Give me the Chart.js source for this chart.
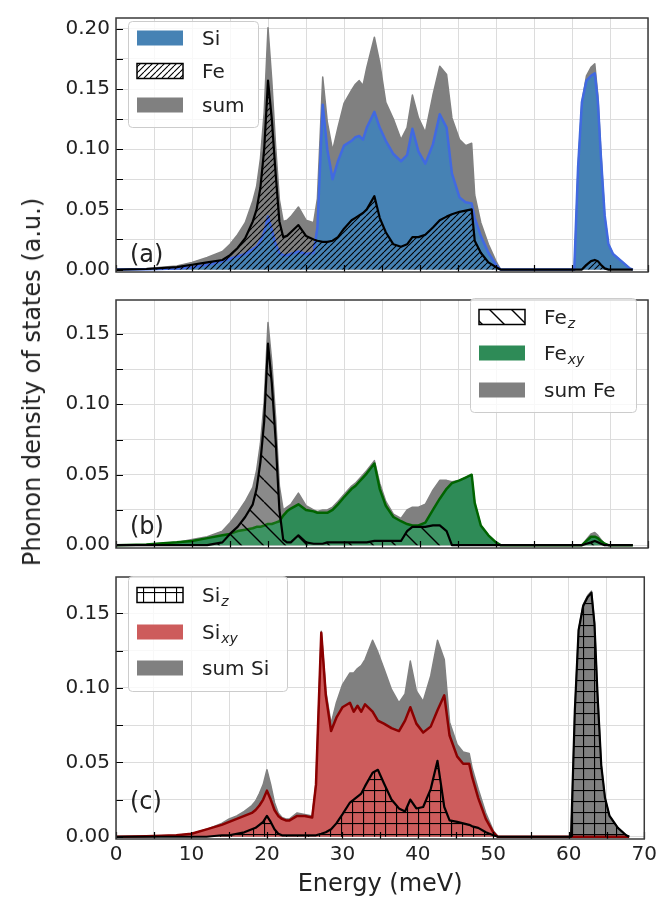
<!DOCTYPE html>
<html>
<head>
<meta charset="utf-8">
<script src="https://cdn.jsdelivr.net/npm/chart.js@4.4.1/dist/chart.umd.min.js"></script>
<style>
    html, body { margin: 0; padding: 0; background: #fff; }
    #fig { position: relative; width: 661px; height: 904px; overflow: hidden; }
    #fig canvas { position: absolute; left: 0; }
    #ylabel {
        position: absolute; left: 32px; top: 382px;
        transform: translate(-50%, -50%) rotate(-90deg);
        font: 24px "DejaVu Sans", sans-serif; color: #222; white-space: nowrap;
    }
</style>
</head>
<body>
<div id="fig">
    <canvas id="panelA" width="661" height="290" style="top:0px"></canvas>
    <canvas id="panelB" width="661" height="284" style="top:282px"></canvas>
    <canvas id="panelC" width="661" height="345" style="top:559px"></canvas>
    <div id="ylabel">Phonon density of states (a.u.)</div>
</div>
<script>
// energy grid (meV), shared by all series
const energy = [
    0, 4, 8, 10, 12, 14, 15, 16, 17, 18,
    18.5, 19, 19.5, 20, 20.5, 21, 21.5, 22, 22.5, 23,
    24, 25, 26, 26.5, 27.2, 27.8, 28.5, 29.2, 30, 31,
    31.5, 32, 32.5, 33, 34, 34.7, 35.5, 36.5, 37.5, 38.3,
    39, 39.8, 40.7, 41.7, 42.6, 43.5, 44.2, 45.2, 46, 46.8,
    47.2, 48, 49, 50, 50.6, 55, 60, 60.3, 60.8, 61.3,
    61.9, 62.5, 63, 63.4, 63.8, 64.3, 64.8, 65.4, 66.5, 67.6,
    68
];

// panel (a)
const siTotal = [
    0, 0.0003, 0.001, 0.002, 0.004, 0.007, 0.009, 0.011, 0.013, 0.017,
    0.019, 0.024, 0.031, 0.044, 0.033, 0.021, 0.014, 0.012, 0.012, 0.013,
    0.015, 0.013, 0.014, 0.035, 0.137, 0.100, 0.075, 0.090, 0.103, 0.107,
    0.110, 0.111, 0.108, 0.118, 0.131, 0.118, 0.107, 0.096, 0.090, 0.095,
    0.117, 0.098, 0.088, 0.104, 0.129, 0.118, 0.080, 0.060, 0.056, 0.055,
    0.043, 0.028, 0.014, 0.004, 0, 0, 0, 0, 0.085, 0.139,
    0.157, 0.161, 0.163, 0.140, 0.094, 0.045, 0.021, 0.013, 0.007, 0.001,
    0
];
const feTotal = [
    0, 0.0005, 0.002, 0.004, 0.006, 0.008, 0.012, 0.018, 0.026, 0.040,
    0.050, 0.068, 0.100, 0.157, 0.125, 0.080, 0.040, 0.027, 0.028, 0.031,
    0.037, 0.028, 0.025, 0.024, 0.023, 0.023, 0.024, 0.027, 0.034, 0.041,
    0.043, 0.045, 0.047, 0.050, 0.061, 0.043, 0.031, 0.021, 0.019, 0.021,
    0.027, 0.027, 0.029, 0.035, 0.041, 0.044, 0.046, 0.048, 0.049, 0.050,
    0.024, 0.014, 0.006, 0.002, 0, 0, 0, 0, 0, 0,
    0.004, 0.007, 0.008, 0.007, 0.004, 0.001, 0, 0, 0, 0,
    0
];
const sumTotal = [
    0, 0.001, 0.003, 0.006, 0.010, 0.015, 0.021, 0.029, 0.039, 0.057,
    0.069, 0.092, 0.131, 0.201, 0.157, 0.103, 0.058, 0.040, 0.041, 0.044,
    0.052, 0.041, 0.039, 0.059, 0.160, 0.123, 0.099, 0.118, 0.138, 0.149,
    0.154, 0.157, 0.153, 0.168, 0.193, 0.172, 0.139, 0.125, 0.108, 0.118,
    0.145, 0.126, 0.114, 0.145, 0.169, 0.162, 0.126, 0.108, 0.103, 0.105,
    0.062, 0.039, 0.021, 0.007, 0, 0, 0, 0, 0.085, 0.139,
    0.161, 0.168, 0.171, 0.145, 0.098, 0.045, 0.021, 0.013, 0.007, 0.001,
    0
];

// panel (b)
const feZ = [
    0, 0, 0, 0, 0, 0.002, 0.008, 0.013, 0.020, 0.029,
    0.040, 0.059, 0.088, 0.143, 0.115, 0.075, 0.025, 0.004, 0.002, 0.002,
    0.007, 0.002, 0.001, 0.001, 0.001, 0.002, 0.002, 0.002, 0.002, 0.002,
    0.002, 0.002, 0.002, 0.002, 0.003, 0.003, 0.003, 0.003, 0.003, 0.010,
    0.013, 0.013, 0.013, 0.014, 0.014, 0.010, 0, 0, 0, 0,
    0, 0, 0, 0, 0, 0, 0, 0, 0, 0,
    0.001, 0.002, 0.003, 0.002, 0.001, 0, 0, 0, 0, 0,
    0
];
const feXY = [
    0, 0.0005, 0.002, 0.003, 0.005, 0.007, 0.008, 0.010, 0.011, 0.012,
    0.013, 0.013, 0.014, 0.015, 0.015, 0.016, 0.017, 0.021, 0.024, 0.026,
    0.029, 0.025, 0.024, 0.023, 0.023, 0.023, 0.025, 0.029, 0.034, 0.040,
    0.042, 0.045, 0.048, 0.051, 0.058, 0.040, 0.028, 0.020, 0.017, 0.015,
    0.014, 0.014, 0.016, 0.025, 0.033, 0.040, 0.044, 0.046, 0.048, 0.050,
    0.030, 0.014, 0.007, 0.002, 0, 0, 0, 0, 0, 0,
    0.003, 0.006, 0.006, 0.005, 0.003, 0.001, 0, 0, 0, 0,
    0
];
const sumFe = [
    0, 0.0005, 0.002, 0.004, 0.006, 0.010, 0.016, 0.023, 0.031, 0.041,
    0.053, 0.072, 0.102, 0.158, 0.130, 0.091, 0.042, 0.025, 0.027, 0.029,
    0.037, 0.028, 0.025, 0.024, 0.025, 0.025, 0.027, 0.031, 0.036, 0.042,
    0.044, 0.047, 0.050, 0.053, 0.060, 0.044, 0.031, 0.022, 0.019, 0.025,
    0.027, 0.027, 0.029, 0.039, 0.046, 0.046, 0.045, 0.046, 0.048, 0.050,
    0.030, 0.014, 0.007, 0.002, 0, 0, 0, 0, 0, 0,
    0.004, 0.008, 0.009, 0.007, 0.004, 0.001, 0, 0, 0, 0,
    0
];

// panel (c)
const siZ = [
    0, 0, 0, 0, 0, 0.001, 0.001, 0.002, 0.003, 0.005,
    0.006, 0.008, 0.010, 0.014, 0.010, 0.005, 0.002, 0.001, 0.001, 0.001,
    0.001, 0.001, 0.001, 0.001, 0.002, 0.003, 0.005, 0.009, 0.015, 0.023,
    0.025, 0.027, 0.029, 0.034, 0.043, 0.045, 0.036, 0.025, 0.019, 0.017,
    0.025, 0.019, 0.020, 0.032, 0.051, 0.020, 0.011, 0.010, 0.009, 0.008,
    0.007, 0.006, 0.003, 0.001, 0, 0, 0, 0, 0.085, 0.139,
    0.155, 0.161, 0.164, 0.143, 0.096, 0.048, 0.026, 0.014, 0.006, 0.001,
    0
];
const siXY = [
    0, 0.0003, 0.001, 0.002, 0.005, 0.008, 0.010, 0.012, 0.014, 0.016,
    0.018, 0.021, 0.025, 0.031, 0.025, 0.018, 0.014, 0.012, 0.011, 0.011,
    0.014, 0.014, 0.013, 0.035, 0.137, 0.095, 0.071, 0.080, 0.087, 0.090,
    0.084, 0.088, 0.084, 0.089, 0.084, 0.078, 0.076, 0.073, 0.071, 0.078,
    0.087, 0.076, 0.070, 0.074, 0.085, 0.095, 0.068, 0.054, 0.049, 0.049,
    0.040, 0.026, 0.012, 0.003, 0, 0, 0, 0, 0, 0,
    0, 0, 0, 0, 0, 0, 0, 0, 0, 0,
    0
];
const sumSi = [
    0, 0.0003, 0.001, 0.002, 0.005, 0.009, 0.012, 0.014, 0.017, 0.021,
    0.024, 0.029, 0.035, 0.045, 0.035, 0.023, 0.016, 0.013, 0.012, 0.012,
    0.016, 0.015, 0.014, 0.036, 0.138, 0.098, 0.076, 0.090, 0.102, 0.110,
    0.110, 0.113, 0.115, 0.119, 0.132, 0.124, 0.113, 0.099, 0.090, 0.096,
    0.118, 0.098, 0.091, 0.108, 0.132, 0.119, 0.077, 0.062, 0.057, 0.056,
    0.046, 0.032, 0.016, 0.004, 0, 0, 0, 0, 0.085, 0.139,
    0.156, 0.162, 0.165, 0.144, 0.097, 0.048, 0.026, 0.014, 0.006, 0.001,
    0
];

// ticks
const xTicks = [0, 5, 10, 15, 20, 25, 30, 35, 40, 45, 50, 55, 60, 65, 70];
const xTickLabels = ['0', '', '10', '', '20', '', '30', '', '40', '', '50', '', '60', '', '70'];
const yTicksA = [0, 0.025, 0.05, 0.075, 0.1, 0.125, 0.15, 0.175, 0.2];
const yTicksBC = [0, 0.025, 0.05, 0.075, 0.1, 0.125, 0.15];

const FONT = '"DejaVu Sans", sans-serif';
const GRID = '#dcdcdc';
const GRAY = '#808080';

Chart.defaults.font.family = FONT;
Chart.defaults.color = '#222';

function xy(values) {
    return energy.map((e, i) => ({ x: e, y: values[i] }));
}

// matplotlib-like hatches: '/', '\\' or '+'
function hatchPattern(kind, size, lineWidth, bg) {
    const tile = document.createElement('canvas');
    tile.width = size;
    tile.height = size;
    const g = tile.getContext('2d');
    if (bg) {
        g.fillStyle = bg;
        g.fillRect(0, 0, size, size);
    }
    g.strokeStyle = '#000';
    g.fillStyle = '#000';
    g.lineWidth = lineWidth;
    if (kind === '+') {
        g.fillRect(0, 0, size, lineWidth);
        g.fillRect(0, 0, lineWidth, size);
    } else {
        g.beginPath();
        for (let k = -1; k <= 1; k++) {
            if (kind === '/') {
                g.moveTo(k * size, size);
                g.lineTo(k * size + size, 0);
            } else {
                g.moveTo(k * size, 0);
                g.lineTo(k * size + size, size);
            }
        }
        g.stroke();
    }
    return g.createPattern(tile, 'repeat');
}

const feHatch = hatchPattern('/', 6, 1.1, null);
const feZHatch = hatchPattern('\\', 22, 1.4, 'rgba(255,255,255,0.08)');
const siZHatch = hatchPattern('+', 11, 1.1, null);

function yLabel(v) {
    return Math.round(v * 1000) % 50 === 0 ? v.toFixed(2) : '';
}

function panelDecor(p) {
    return {
        id: 'panelDecor',
        afterDraw(chart) {
            const ctx = chart.ctx;
            const a = chart.chartArea;
            const xs = chart.scales.x;
            const ys = chart.scales.y;
            ctx.save();

            // ticks point inwards
            ctx.strokeStyle = '#000';
            ctx.lineWidth = 1.2;
            ctx.beginPath();
            xTicks.forEach(v => {
                const px = Math.round(xs.getPixelForValue(v)) + 0.5;
                ctx.moveTo(px, a.bottom);
                ctx.lineTo(px, a.bottom - 7);
            });
            p.yTicks.forEach(v => {
                const py = Math.round(ys.getPixelForValue(v)) + 0.5;
                ctx.moveTo(a.left, py);
                ctx.lineTo(a.left + 7, py);
            });
            ctx.stroke();

            // frame
            ctx.strokeStyle = '#3a3a3a';
            ctx.lineWidth = 1.5;
            ctx.strokeRect(a.left, a.top, a.right - a.left, a.bottom - a.top);

            // panel letter
            ctx.fillStyle = '#222';
            ctx.textAlign = 'left';
            ctx.textBaseline = 'alphabetic';
            ctx.font = '24px ' + FONT;
            ctx.fillText(p.letter, a.left + 14, p.letterY);

            // legend
            const L = p.legend;
            ctx.fillStyle = 'rgba(255,255,255,0.8)';
            ctx.strokeStyle = '#cccccc';
            ctx.lineWidth = 1;
            ctx.beginPath();
            if (ctx.roundRect) {
                ctx.roundRect(L.x + 0.5, L.y + 0.5, L.w, L.h, 4);
            } else {
                ctx.rect(L.x + 0.5, L.y + 0.5, L.w, L.h);
            }
            ctx.fill();
            ctx.stroke();

            L.items.forEach((it, i) => {
                const cy = L.rows[i];
                const sx = L.x + 9, sw = 46, sh = 15;
                if (it.hatch) {
                    ctx.fillStyle = '#fff';
                    ctx.fillRect(sx, cy - sh / 2, sw, sh);
                }
                ctx.fillStyle = it.fill;
                ctx.fillRect(sx, cy - sh / 2, sw, sh);
                if (it.edge) {
                    ctx.strokeStyle = it.edge;
                    ctx.lineWidth = 1.5;
                    ctx.strokeRect(sx, cy - sh / 2, sw, sh);
                }
                const tx = L.x + 74, base = cy + 7;
                ctx.fillStyle = '#222';
                ctx.font = '20px ' + FONT;
                ctx.fillText(it.text, tx, base);
                if (it.sub) {
                    const w = ctx.measureText(it.text).width;
                    ctx.font = 'italic 14px ' + FONT;
                    ctx.fillText(it.sub, tx + w + 1, base + 4);
                }
            });
            ctx.restore();
        }
    };
}

function makePanel(id, p) {
    return new Chart(document.getElementById(id), {
        type: 'line',
        data: { datasets: p.datasets },
        options: {
            responsive: false,
            animation: false,
            devicePixelRatio: 1,
            layout: { padding: { top: p.padTop, right: 13, bottom: p.padBottom, left: 0 } },
            elements: { point: { radius: 0 }, line: { tension: 0, borderJoinStyle: 'round' } },
            plugins: { legend: { display: false }, tooltip: { enabled: false } },
            scales: {
                x: {
                    type: 'linear',
                    min: 0,
                    max: 70,
                    border: { display: false },
                    grid: { color: GRID, lineWidth: 1, drawTicks: false },
                    afterBuildTicks: s => { s.ticks = xTicks.map(v => ({ value: v })); },
                    afterFit: s => { s.height = p.xHeight; },
                    ticks: {
                        display: p.showX,
                        padding: 4,
                        autoSkip: false,
                        maxRotation: 0,
                        font: { size: 20 },
                        callback: (v, i) => xTickLabels[i]
                    },
                    title: {
                        display: p.showX,
                        text: 'Energy (meV)',
                        font: { size: 24 },
                        padding: { top: 0, bottom: 5 }
                    }
                },
                y: {
                    min: p.yMin,
                    max: p.yMax,
                    border: { display: false },
                    grid: { color: GRID, lineWidth: 1, drawTicks: false },
                    afterBuildTicks: s => { s.ticks = p.yTicks.map(v => ({ value: v })); },
                    afterFit: s => { s.width = 116; },
                    ticks: {
                        padding: 6,
                        autoSkip: false,
                        font: { size: 20 },
                        callback: v => yLabel(v)
                    }
                }
            }
        },
        plugins: [panelDecor(p)]
    });
}

// (a) total Si / Fe
makePanel('panelA', {
    padTop: 8, padBottom: 5, xHeight: 0, showX: false,
    yMin: -0.002, yMax: 0.209, yTicks: yTicksA,
    letter: '(a)', letterY: 262,
    legend: {
        x: 128, y: 21, w: 130, h: 106, rows: [38, 71, 105],
        items: [
            { text: 'Si', fill: '#4682b4' },
            { text: 'Fe', fill: feHatch, hatch: true, edge: '#000' },
            { text: 'sum', fill: GRAY }
        ]
    },
    datasets: [
        { label: 'sum', data: xy(sumTotal), fill: 'origin', backgroundColor: GRAY, borderColor: GRAY, borderWidth: 1.5, order: 3 },
        { label: 'Si', data: xy(siTotal), fill: 'origin', backgroundColor: '#4682b4', borderColor: '#4169e1', borderWidth: 2.5, order: 2 },
        { label: 'Fe', data: xy(feTotal), fill: 'origin', backgroundColor: feHatch, borderColor: '#000', borderWidth: 2.2, order: 1 }
    ]
});

// (b) Fe projections
makePanel('panelB', {
    padTop: 4, padBottom: 4, xHeight: 0, showX: false,
    yMin: -0.002, yMax: 0.174, yTicks: yTicksBC,
    letter: '(b)', letterY: 252,
    legend: {
        x: 470, y: 16, w: 166, h: 114, rows: [35, 71, 108],
        items: [
            { text: 'Fe', sub: 'z', fill: feZHatch, hatch: true, edge: '#000' },
            { text: 'Fe', sub: 'xy', fill: '#2e8b57' },
            { text: 'sum Fe', fill: GRAY }
        ]
    },
    datasets: [
        { label: 'sum Fe', data: xy(sumFe), fill: 'origin', backgroundColor: GRAY, borderColor: GRAY, borderWidth: 1.5, order: 3 },
        { label: 'Fe xy', data: xy(feXY), fill: 'origin', backgroundColor: '#2e8b57', borderColor: '#006400', borderWidth: 2.5, order: 2 },
        { label: 'Fe z', data: xy(feZ), fill: 'origin', backgroundColor: feZHatch, borderColor: '#000', borderWidth: 2.2, order: 1 }
    ]
});

// (c) Si projections
makePanel('panelC', {
    padTop: 4, padBottom: 0, xHeight: 65, showX: true,
    yMin: -0.0015, yMax: 0.1745, yTicks: yTicksBC,
    letter: '(c)', letterY: 250,
    legend: {
        x: 128, y: 17, w: 159, h: 115, rows: [36, 73, 109],
        items: [
            { text: 'Si', sub: 'z', fill: siZHatch, hatch: true, edge: '#000' },
            { text: 'Si', sub: 'xy', fill: '#cd5c5c' },
            { text: 'sum Si', fill: GRAY }
        ]
    },
    datasets: [
        { label: 'sum Si', data: xy(sumSi), fill: 'origin', backgroundColor: GRAY, borderColor: GRAY, borderWidth: 1.5, order: 3 },
        { label: 'Si xy', data: xy(siXY), fill: 'origin', backgroundColor: '#cd5c5c', borderColor: '#8b0000', borderWidth: 2.5, order: 2 },
        { label: 'Si z', data: xy(siZ), fill: 'origin', backgroundColor: siZHatch, borderColor: '#000', borderWidth: 2.2, order: 1 }
    ]
});
</script>
</body>
</html>
